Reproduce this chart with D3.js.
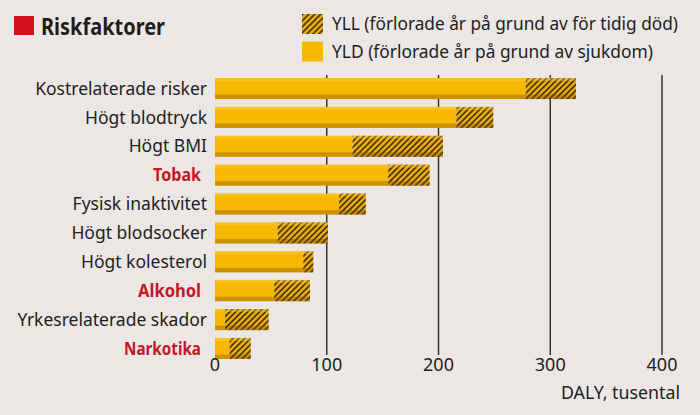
<!DOCTYPE html>
<html>
<head>
<meta charset="utf-8">
<script src="https://cdn.jsdelivr.net/npm/d3@7"></script>
<style>
  body { margin: 0; background: #ece6e4; }
  svg { display: block; font-family: "Noto Sans", sans-serif; }
</style>
</head>
<body>
<div id="chart"></div>
<script>
// data, thousands of DALY
var categories = ["Kostrelaterade risker", "Högt blodtryck", "Högt BMI", "Tobak",
    "Fysisk inaktivitet", "Högt blodsocker", "Högt kolesterol", "Alkohol",
    "Yrkesrelaterade skador", "Narkotika"];
var yld = [278, 216, 123, 155, 111, 56, 79, 53, 9, 13];
var yll = [45, 33, 81, 37, 24, 45, 9, 32, 39, 19];
var highlighted = ["Tobak", "Alkohol", "Narkotika"];
var ticks = [0, 100, 200, 300, 400];

// condensed bold look for the highlighted labels
var boldWidth = { "Tobak": 48, "Alkohol": 63, "Narkotika": 77 };

var W = 700, H = 415;
var m = { top: 78, left: 215, right: 38, bottom: 62 };

var svg = d3.select("#chart").append("svg")
    .attr("width", W)
    .attr("height", H);

svg.append("rect")
    .attr("width", W)
    .attr("height", H)
    .attr("fill", "#ece6e4");

var defs = svg.append("defs");
var pat = defs.append("pattern")
    .attr("id", "hatch")
    .attr("patternUnits", "userSpaceOnUse")
    .attr("width", 4.2)
    .attr("height", 4.2)
    .attr("patternTransform", "rotate(45)");
pat.append("rect")
    .attr("width", 4.2)
    .attr("height", 4.2)
    .attr("fill", "#e6ab0e");
pat.append("rect")
    .attr("width", 1.5)
    .attr("height", 4.2)
    .attr("fill", "#3b2a0c");

var x = d3.scaleLinear()
    .domain([0, 400])
    .range([m.left, W - m.right]);

var y = d3.scaleBand()
    .domain(categories)
    .range([m.top, m.top + 28.1 * 10])
    .paddingInner(0.27)
    .paddingOuter(0);

// gridlines
svg.append("g")
    .selectAll("line")
    .data(ticks.slice(1))
    .enter()
    .append("line")
    .attr("x1", function(d) { return x(d); })
    .attr("x2", function(d) { return x(d); })
    .attr("y1", 75)
    .attr("y2", 355)
    .attr("stroke", "#2e2a28")
    .attr("stroke-width", 1.4);

// bars
var rows = svg.append("g")
    .selectAll(".row")
    .data(categories)
    .enter()
    .append("g")
    .attr("class", "row");

rows.append("rect")
    .attr("x", x(0))
    .attr("y", function(d) { return y(d); })
    .attr("width", function(d, i) { return x(yld[i]) - x(0); })
    .attr("height", y.bandwidth())
    .attr("fill", "#f6b800");

rows.append("rect")
    .attr("x", function(d, i) { return x(yld[i]); })
    .attr("y", function(d) { return y(d); })
    .attr("width", function(d, i) { return x(yld[i] + yll[i]) - x(yld[i]); })
    .attr("height", y.bandwidth())
    .attr("fill", "url(#hatch)");

// light top edge and darker bottom edge
rows.append("rect")
    .attr("x", x(0))
    .attr("y", function(d) { return y(d); })
    .attr("width", function(d, i) { return x(yld[i] + yll[i]) - x(0); })
    .attr("height", 3)
    .attr("fill", "#ffd24a")
    .attr("opacity", 0.35);

rows.append("rect")
    .attr("x", x(0))
    .attr("y", function(d) { return y(d) + y.bandwidth() - 4.5; })
    .attr("width", function(d, i) { return x(yld[i] + yll[i]) - x(0); })
    .attr("height", 4.5)
    .attr("fill", "#7a4a00")
    .attr("opacity", 0.35);

// category labels
function isHi(d) { return highlighted.indexOf(d) >= 0; }
var labels = rows.append("text")
    .attr("x", function(d) { return isHi(d) ? 201 : 207; })
    .attr("y", function(d) { return y(d) + y.bandwidth() / 2; })
    .attr("dy", "0.35em")
    .attr("text-anchor", "end")
    .attr("font-size", 17.5)
    .attr("font-weight", function(d) { return isHi(d) ? "bold" : "normal"; })
    .attr("fill", function(d) { return isHi(d) ? "#c3172a" : "#1e1e1e"; })
    .text(function(d) { return d; });
labels.filter(isHi)
    .attr("textLength", function(d) { return boldWidth[d]; })
    .attr("lengthAdjust", "spacingAndGlyphs");

// x axis labels
svg.append("g")
    .selectAll("text")
    .data(ticks)
    .enter()
    .append("text")
    .attr("x", function(d) { return x(d); })
    .attr("y", 371)
    .attr("text-anchor", "middle")
    .attr("font-size", 18)
    .attr("fill", "#1e1e1e")
    .text(function(d) { return d; });

svg.append("text")
    .attr("x", 680)
    .attr("y", 399)
    .attr("text-anchor", "end")
    .attr("font-size", 17.8)
    .attr("fill", "#1e1e1e")
    .text("DALY, tusental");

// title
svg.append("rect")
    .attr("x", 14)
    .attr("y", 16)
    .attr("width", 20)
    .attr("height", 19)
    .attr("fill", "#d3111d");

svg.append("text")
    .attr("x", 41)
    .attr("y", 34.5)
    .attr("font-size", 23)
    .attr("font-weight", "bold")
    .attr("fill", "#1e1e1e")
    .attr("textLength", 124)
    .attr("lengthAdjust", "spacingAndGlyphs")
    .text("Riskfaktorer");

// legend
var legendItems = [
    { label: "YLL (förlorade år på grund av för tidig död)", fill: "url(#hatch)", len: 346 },
    { label: "YLD (förlorade år på grund av sjukdom)", fill: "#f6b800", len: 321 }
];
var lg = svg.append("g")
    .selectAll("g")
    .data(legendItems)
    .enter()
    .append("g")
    .attr("transform", function(d, i) { return "translate(302," + (14 + i * 27.5) + ")"; });
lg.append("rect")
    .attr("width", 21)
    .attr("height", 20)
    .attr("fill", function(d) { return d.fill; });
lg.append("text")
    .attr("x", 30)
    .attr("y", 10)
    .attr("dy", "0.35em")
    .attr("font-size", 18)
    .attr("fill", "#1e1e1e")
    .attr("textLength", function(d) { return d.len; })
    .attr("lengthAdjust", "spacingAndGlyphs")
    .text(function(d) { return d.label; });
</script>
</body>
</html>
